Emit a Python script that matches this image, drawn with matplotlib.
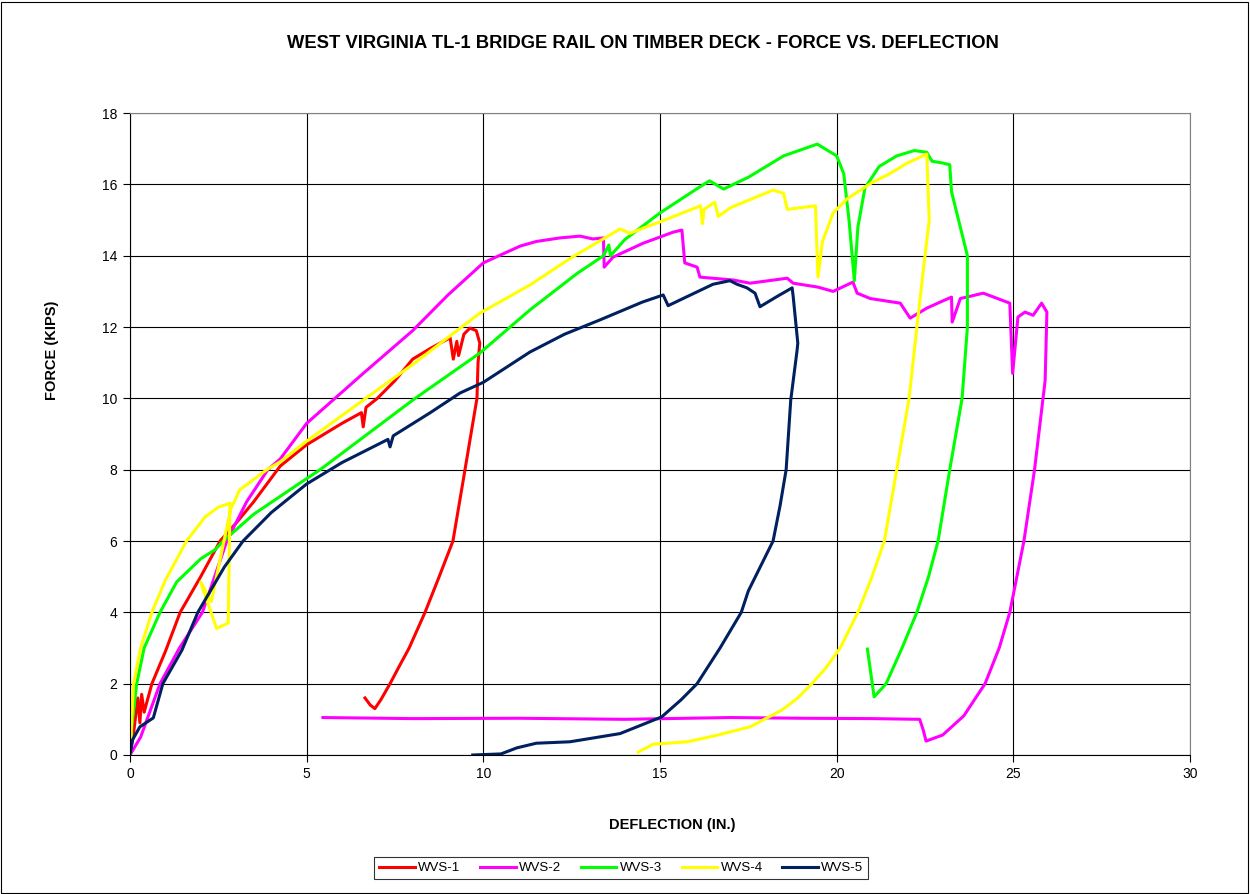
import matplotlib
matplotlib.use("Agg")
import matplotlib.pyplot as plt
from matplotlib.patches import Rectangle

plt.rcParams['font.family'] = ['Liberation Sans', 'DejaVu Sans']

# WVS-1
wvs1_x = [0, 0.1, 0.22, 0.28, 0.33, 0.4, 0.62, 1.0, 1.42, 2.0, 2.55, 3.0, 3.5, 4.25, 5.0, 6.0,
          6.55, 6.6, 6.68, 7.0, 7.5, 8.0, 8.5, 9.06, 9.15, 9.25, 9.3, 9.45, 9.62, 9.8, 9.9,
          9.85, 9.82, 9.65, 9.43, 9.14, 8.75, 8.35, 7.9, 7.6, 7.36, 7.1, 6.93, 6.8, 6.65]
wvs1_y = [0, 0.6, 1.6, 0.9, 1.7, 1.2, 2.0, 2.9, 4.0, 5.0, 6.0, 6.5, 7.1, 8.1, 8.7, 9.3,
          9.6, 9.2, 9.75, 10.0, 10.5, 11.1, 11.4, 11.7, 11.1, 11.6, 11.2, 11.8, 11.97, 11.9, 11.55,
          11.0, 10.0, 9.0, 7.7, 6.0, 5.0, 4.0, 3.0, 2.45, 2.0, 1.55, 1.3, 1.4, 1.6]

# WVS-2
wvs2_x = [0, 0.3, 0.85, 1.4, 2.05, 2.74, 3.3, 3.9, 4.25, 5.0, 6.6, 8.0, 9.0, 10.0, 11.04, 11.5,
          12.17, 12.74, 13.1, 13.4, 13.42, 13.67, 14.52, 15.37, 15.62, 15.7, 16.05, 16.13, 17.07,
          17.55, 18.6, 18.77, 19.47, 19.9, 20.46, 20.58, 20.95, 21.8, 22.08, 22.55, 22.93, 23.25,
          23.27, 23.5, 24.15, 24.9, 24.98, 25.13, 25.33, 25.56, 25.8, 25.95, 25.9, 25.6, 25.3,
          25.1, 24.9, 24.6, 24.2, 23.6, 23.0, 22.53, 22.45, 22.35, 21.0, 19.0, 17.0, 14.0, 11.0,
          8.0, 5.46]
wvs2_y = [0, 0.5, 2.0, 3.0, 4.0, 6.0, 7.1, 8.0, 8.3, 9.3, 10.7, 11.9, 12.9, 13.8, 14.27, 14.4,
          14.5, 14.55, 14.47, 14.5, 13.68, 13.96, 14.35, 14.66, 14.72, 13.8, 13.68, 13.4, 13.32,
          13.23, 13.37, 13.23, 13.12, 13.0, 13.26, 12.95, 12.8, 12.67, 12.25, 12.53, 12.7, 12.84,
          12.14, 12.8, 12.95, 12.67, 10.7, 12.28, 12.42, 12.33, 12.67, 12.42, 10.5, 8.0, 6.0,
          5.0, 4.0, 3.0, 2.0, 1.1, 0.56, 0.39, 0.7, 1.0, 1.02, 1.03, 1.05, 1.0, 1.03,
          1.02, 1.05]

# WVS-3
wvs3_x = [0, 0.05, 0.19, 0.4, 0.85, 1.32, 2.0, 2.4, 2.64, 3.5, 4.8, 5.38, 8.0, 9.9, 11.32, 12.65,
          13.4, 13.55, 13.6, 14.0, 15.0, 16.0, 16.4, 16.8, 17.5, 18.5, 19.45, 20.0, 20.2, 20.35,
          20.5, 20.6, 20.8, 21.2, 21.7, 22.2, 22.55, 22.7, 23.0, 23.2, 23.25, 23.5, 23.7, 23.7,
          23.55, 23.2, 22.87, 22.6, 22.27, 21.85, 21.4, 21.06, 20.87]
wvs3_y = [0, 0.8, 2.0, 3.0, 4.0, 4.85, 5.5, 5.75, 6.0, 6.75, 7.62, 8.0, 9.95, 11.27, 12.48, 13.5,
          14.0, 14.3, 14.0, 14.45, 15.2, 15.85, 16.1, 15.87, 16.2, 16.8, 17.13, 16.8, 16.3, 15.0,
          13.3, 14.8, 15.9, 16.5, 16.8, 16.95, 16.9, 16.65, 16.6, 16.55, 15.8, 14.8, 14.0, 12.0,
          10.0, 8.0, 6.0, 5.0, 4.0, 3.0, 2.0, 1.63, 2.97]

# WVS-4
wvs4_x = [0, 0.05, 0.1, 0.3, 0.62, 1.0, 1.6, 2.12, 2.5, 2.83, 2.78, 2.45, 2.0, 2.3, 2.85, 2.95,
          3.1, 3.87, 4.25, 5.0, 6.6, 8.0, 9.9, 11.32, 12.5, 13.87, 14.15, 15.0, 16.15, 16.2, 16.25,
          16.55, 16.65, 17.0, 18.2, 18.5, 18.6, 19.4, 19.47, 19.6, 19.9, 20.3, 21.0, 21.5, 22.0,
          22.55, 22.62, 22.5, 22.27, 22.05, 21.7, 21.35, 21.0, 20.6, 20.1, 19.7, 19.3, 18.9,
          18.45, 17.55, 16.6, 15.77, 14.8, 14.38]
wvs4_y = [0, 1.0, 2.0, 3.0, 4.0, 4.9, 6.0, 6.67, 6.95, 7.06, 3.7, 3.55, 4.85, 4.3, 6.9, 7.1,
          7.43, 8.0, 8.22, 8.8, 9.95, 10.95, 12.39, 13.18, 13.95, 14.75, 14.63, 14.95, 15.4, 14.9,
          15.3, 15.5, 15.1, 15.35, 15.84, 15.75, 15.3, 15.4, 13.4, 14.4, 15.2, 15.6, 16.05, 16.3,
          16.6, 16.85, 15.0, 14.0, 12.0, 10.0, 8.0, 6.0, 5.0, 4.0, 3.0, 2.45, 2.0, 1.6,
          1.26, 0.79, 0.55, 0.37, 0.3, 0.08]

# WVS-5
wvs5_x = [0, 0.07, 0.28, 0.66, 0.93, 1.47, 1.92, 2.67, 3.2, 4.0, 5.0, 6.0, 7.3, 7.36, 7.45,
          8.5, 9.34, 10.0, 11.32, 12.3, 13.3, 14.5, 15.09, 15.23, 16.5, 16.98, 17.18, 17.46, 17.69,
          17.83, 18.3, 18.74, 18.77, 18.9, 18.88, 18.7, 18.57, 18.4, 18.2, 17.85, 17.5, 17.3,
          16.7, 16.05, 15.6, 15.05, 14.5, 13.87, 12.45, 11.5, 10.95, 10.5, 9.7]
wvs5_y = [0, 0.42, 0.79, 1.04, 2.0, 2.94, 4.0, 5.27, 6.0, 6.8, 7.6, 8.2, 8.85, 8.64, 8.95,
          9.6, 10.15, 10.45, 11.3, 11.8, 12.2, 12.7, 12.9, 12.6, 13.2, 13.3, 13.2, 13.1, 12.95,
          12.57, 12.85, 13.1, 12.85, 11.55, 11.35, 9.95, 8.0, 7.0, 6.0, 5.3, 4.6, 4.0,
          3.0, 2.0, 1.55, 1.07, 0.85, 0.6, 0.37, 0.33, 0.2, 0.03, 0.0]

series = [
    ("WVS-1", wvs1_x, wvs1_y, "#FF0000"),
    ("WVS-2", wvs2_x, wvs2_y, "#FF00FF"),
    ("WVS-3", wvs3_x, wvs3_y, "#00FF00"),
    ("WVS-4", wvs4_x, wvs4_y, "#FFFF00"),
    ("WVS-5", wvs5_x, wvs5_y, "#002060"),
]

fig = plt.figure(figsize=(12.5, 8.94), dpi=100)
ax = fig.add_axes([0.104, 0.1555, 0.848, 0.718])

for name, xs, ys, col in series:
    ax.plot(xs, ys, color=col, lw=2.2, label=name, solid_joinstyle="round")

ax.set_xlim(0, 30)
ax.set_ylim(0, 18)
ax.set_xticks(range(0, 31, 5))
ax.set_yticks(range(0, 19, 2))
ax.grid(True, color="black", lw=0.8)
ax.set_axisbelow(True)
for s in ax.spines.values():
    s.set_color("black")
    s.set_linewidth(0.8)
ax.spines["right"].set_color("#808080")
ax.spines["top"].set_color("#808080")
ax.tick_params(direction="out", length=5, width=0.8, labelsize=10, pad=4)

fig.text(643 / 1250, 0.951, "WEST VIRGINIA TL-1 BRIDGE RAIL ON TIMBER DECK - FORCE VS. DEFLECTION",
         ha="center", va="center", fontsize=13.2, fontweight="bold")
fig.text(0.538, 1 - 825 / 894, "DEFLECTION (IN.)", ha="center", va="center",
         fontsize=10.5, fontweight="bold")
fig.text(52 / 1250, 1 - 350 / 894, "FORCE (KIPS)", ha="center", va="center",
         rotation=90, fontsize=10.5, fontweight="bold")

leg = fig.legend(loc="center", bbox_to_anchor=(0.497, 1 - 868 / 894), ncol=5, fontsize=9.5,
                 frameon=True, fancybox=False, edgecolor="black", handlelength=2.7,
                 columnspacing=1.5, handletextpad=0.25, borderpad=0.35)
leg.get_frame().set_linewidth(0.8)

fig.patches.append(Rectangle((0.001, 0.001), 0.997, 0.997, transform=fig.transFigure,
                             fill=False, edgecolor="black", lw=0.8))

fig.savefig("out.png", dpi=100)
